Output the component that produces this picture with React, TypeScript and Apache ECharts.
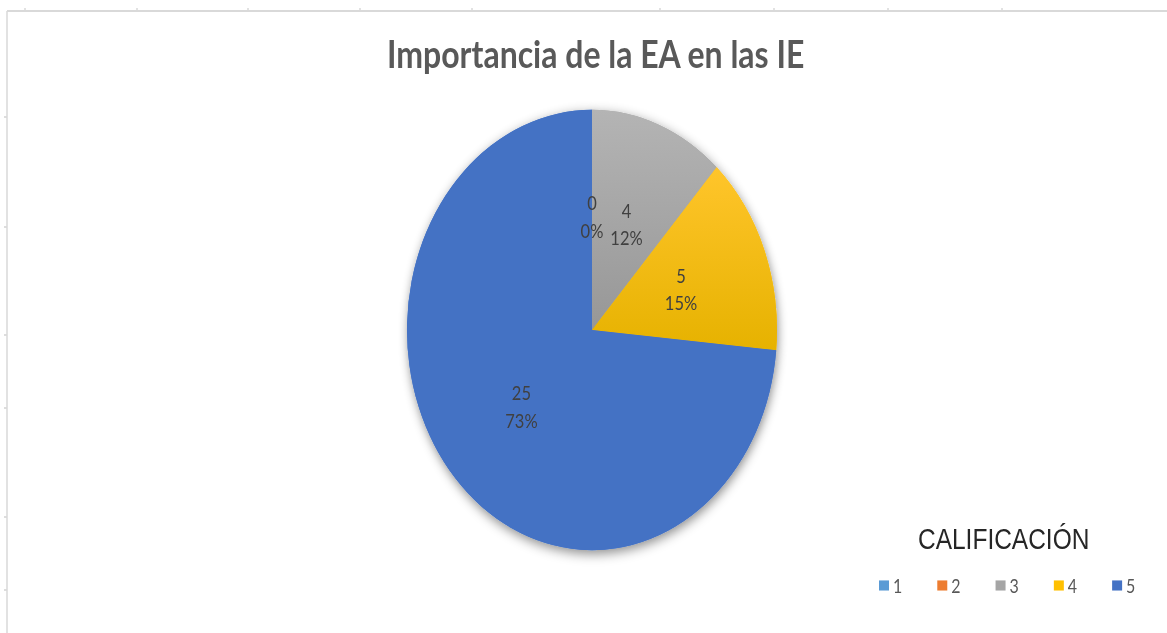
import React, { useEffect, useRef } from "react";
import * as echarts from "echarts";

const categories = ["1", "2", "3", "4", "5"];
const values = [0, 0, 4, 5, 25];
const colors = ["#5b9bd5", "#ed7d31", "#a5a5a5", "#ffc000", "#4472c4"];
const titleText = "Importancia de la EA en las IE";
const legendTitle = "CALIFICACIÓN";

const W = 1167;
const H = 633;
const SCALE_Y = 1.19;
const CH = H / SCALE_Y;

const topTicks = [25, 137, 248, 360, 472, 660, 774, 888, 1002];
const leftTicks = [117, 227, 335, 408, 517, 590];

export default function App() {
  const ref = useRef<HTMLDivElement>(null);
  useEffect(() => {
    document.body.style.margin = "0";
    const chart = echarts.init(ref.current!, undefined, { renderer: "svg" });
    const grad = (a: string, b: string) =>
      new echarts.graphic.LinearGradient(0, 0, 0, 1, [
        { offset: 0, color: a },
        { offset: 1, color: b },
      ]);
    const fills: any[] = [colors[0], colors[1], grad("#b4b4b4", "#979797"), grad("#ffc52b", "#e6b200"), colors[4]];
    const data = categories.map((c, i) => ({ name: c, value: values[i], itemStyle: { color: fills[i] } }));
    const shadowData = categories.map((c, i) => ({ name: c, value: values[i], itemStyle: { color: colors[i] } }));
    const lineStyle = { stroke: "#d9d9d9", lineWidth: 1.5 };
    const frameTop = 11 / SCALE_Y;
    const graphic: any[] = [
      { type: "line", shape: { x1: 7, y1: frameTop, x2: W, y2: frameTop }, style: lineStyle, silent: true },
      { type: "line", shape: { x1: 7, y1: frameTop, x2: 7, y2: CH }, style: lineStyle, silent: true },
      ...topTicks.map((x) => ({ type: "line", shape: { x1: x, y1: frameTop - 2.5, x2: x, y2: frameTop }, style: lineStyle, silent: true })),
      ...leftTicks.map((y) => ({ type: "line", shape: { x1: 4, y1: y / SCALE_Y, x2: 7, y2: y / SCALE_Y }, style: lineStyle, silent: true })),
    ];
    chart.setOption({
      animation: false,
      backgroundColor: "#ffffff",
      title: [
        {
          text: titleText,
          left: 382,
          top: 23,
          textStyle: { fontFamily: "Lato", fontWeight: "bold", fontSize: 32, color: "#595959" },
        },
        {
          text: legendTitle,
          left: 913,
          top: 436,
          textStyle: { fontFamily: "Liberation Sans", fontWeight: "normal", fontSize: 24.5, color: "#262626" },
        },
      ],
      legend: {
        data: categories.map((c, i) => ({ name: c, itemStyle: { color: colors[i] } })),
        left: 874,
        top: 479,
        itemWidth: 10,
        itemHeight: 8.5,
        itemGap: 35,
        icon: "rect",
        textStyle: { fontFamily: "Lato", fontSize: 16, color: "#595959", padding: [0, 0, 0, -1] },
      },
      graphic,
      series: [
        {
          type: "pie",
          center: [592, 330 / SCALE_Y],
          radius: 185,
          startAngle: 90,
          clockwise: true,
          silent: true,
          label: { show: false },
          labelLine: { show: false },
          itemStyle: { shadowBlur: 10, shadowColor: "rgba(0,0,0,0.45)", shadowOffsetX: 1, shadowOffsetY: 3 },
          data: shadowData,
        },
        {
          type: "pie",
          center: [592, 330 / SCALE_Y],
          radius: 185,
          startAngle: 90,
          clockwise: true,
          percentPrecision: 0,
          avoidLabelOverlap: false,
          label: {
            show: true,
            position: "inside",
            formatter: "{c}\n{d}%",
            fontFamily: "Lato",
            fontSize: 16.5,
            lineHeight: 23,
            color: "#404040",
          },
          labelLine: { show: false },
          data,
        },
      ],
    });
    return () => chart.dispose();
  }, []);
  return (
    <div style={{ position: "fixed", left: 0, top: 0, width: W, height: H, overflow: "hidden", background: "#fff" }}>
      <div
        ref={ref}
        style={{ width: W, height: CH, transform: `scaleY(${SCALE_Y})`, transformOrigin: "0 0" }}
      />
    </div>
  );
}
